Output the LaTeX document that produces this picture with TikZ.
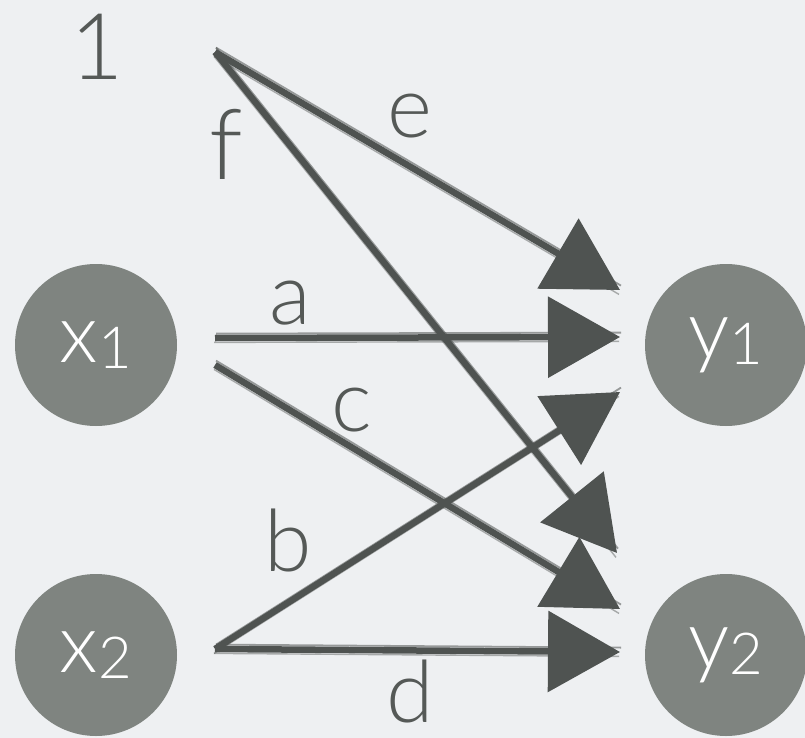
\documentclass[tikz,border=0pt]{standalone}
\usepackage{fontspec}
\newfontfamily\lf{Lato Light}
\usetikzlibrary{arrows.meta}
\definecolor{bg}{HTML}{EEF0F2}
\definecolor{cgray}{HTML}{7F8480}
\definecolor{ink}{HTML}{4F5351}
\definecolor{lbl}{HTML}{555957}
\tikzset{
  circ/.style={circle, fill=cgray, minimum size=162pt, inner sep=0pt, text=white, font=\lf\fontsize{82}{82}\selectfont},
  lab/.style={text=lbl, inner sep=0pt, font=\lf\fontsize{86}{86}\selectfont},
  conn/.style={draw=ink, line width=6.5pt,
    -{Triangle[length=72pt,width=80pt]},
    preaction={draw=ink, line width=1.8pt, opacity=.55, -, transform canvas={shift={(1pt,4.4pt)}}},
    preaction={draw=ink, line width=1.4pt, opacity=.45, -, transform canvas={shift={(-1pt,-4.4pt)}}}}
}
\newcommand{\sbone}{\raisebox{-6pt}{\fontsize{58}{58}\selectfont 1}}
\newcommand{\sbtwo}{\raisebox{-6pt}{\fontsize{58}{58}\selectfont 2}}
\begin{document}
\begin{tikzpicture}[x=1pt,y=-1pt]
\fill[bg] (0,0) rectangle (805,738);
\useasboundingbox (0,0) rectangle (805,738);
% circles
\node[circ] (x1) at (96,345) {x\sbone};
\node[circ] (x2) at (96,655) {x\sbtwo};
\node[circ] (y1) at (726,345) {y\sbone};
\node[circ] (y2) at (726,655) {y\sbtwo};
% bias label
\node[lab, font=\lf\fontsize{92}{92}\selectfont] (one) at (97,47) {1};
% connector end points
\coordinate (sb) at (215,52);
\coordinate (sx1) at (215,338);
\coordinate (sx1c) at (215,365);
\coordinate (sx2) at (215,649);
\coordinate (te) at (620,290);
\coordinate (ta) at (620,337);
\coordinate (tb) at (620,392);
\coordinate (tf) at (617,553);
\coordinate (tc) at (620,609);
\coordinate (td) at (620,652);
% connectors
\draw[conn] (sb) -- (te);
\draw[conn] (sb) -- (tf);
\draw[conn] (sx1) -- (ta);
\draw[conn] (sx1c) -- (tc);
\draw[conn] (sx2) -- (tb);
\draw[conn] (sx2) -- (td);
% labels
\node[lab] (le) at (410,116) {e};
\node[lab, font=\lf\fontsize{98}{98}\selectfont] (lf) at (226,144) {f};
\node[lab] (la) at (290,303) {a};
\node[lab] (lc) at (352,410) {c};
\node[lab] (lb) at (288,540) {b};
\node[lab] (ld) at (410,691) {d};
\end{tikzpicture}
\end{document}
